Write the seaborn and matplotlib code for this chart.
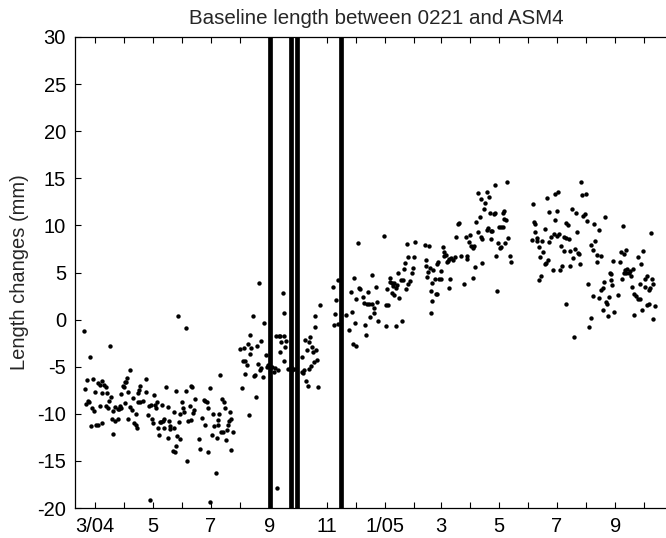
import matplotlib
matplotlib.use("Agg")
import matplotlib.pyplot as plt
import pandas as pd
import seaborn as sns

# ---------------- data (days since 2004-03-01, length change in mm) ----------------
origin = "2004-03-01"

days_spring04 = [-12, 16, -5, 37, -8, -2, 3.5, 8, 9.5, 5.5, 12, -10.5, 0, 7, 12.5, 17, 15, -7, -6, -9.6,
                 5, 12, 13.5, -3, -0.5, 19.5, 21.6, 24, 25, 28, 26, 30.5, 31.6, 33, 34, 30, 27.5, 32, 37, 40,
                 35, 39, 17.6, 21, 24, -3.6, 1, 3, 7.7, 19, 34.5, 41.5, 43, 44.7, 43, 45, 46.5, 48, 45.4, 47.8,
                 51, 53.5, 54.4, 56, 57, 59.5, 60, 61.6, 62.5, 63.7, 64.6, 66, 66.4, 68, 68.6, 70, 71.5, 72.9,
                 70.7, 73, 75, 76.6, 77, 78.6, 79.7, 79, 83, 83.4, 82, 84.5, 85.4, 85.4, 87, 88.4, 89.4, 89.4,
                 92, 93, 93.5, 96, 97, 98, 99.8, 101, 102.4, 101, 103.6, 104.7, 106, 109.7, 110.7, 112.8,
                 114.6, 116, 117.7, 116, 118.8, 119.5, 121.6, 123.4, 125, 126, 127.3, 128.3, 129.7, 129.4,
                 130.8, 131.8, 132.5, 133.6, 135, 135.7, 137.5, 137.8, 139.3, 140.7, 141.4, 142.8, 143.8,
                 145.2, 144, 58, 121, 88, 96]
mm_spring04 = [-1.2, -2.8, -4.0, -5.35, -6.4, -6.3, -6.7, -6.5, -6.9, -6.9, -7.2, -7.4, -7.7, -7.8, -7.8, -8.2,
               -8.6, -8.6, -8.7, -9.0, -9.2, -9.2, -9.35, -9.4, -9.7, -9.7, -9.3, -9.5, -9.5, -9.4, -9.2, -7.2,
               -6.6, -6.6, -6.2, -7.1, -7.9, -8.9, -9.3, -8.3, -7.7, -9.6, -10.5, -10.8, -10.5, -11.3, -11.2,
               -11.2, -11.0, -12.1, -10.6, -11.0, -11.2, -11.5, -10.0, -7.8, -7.5, -7.1, -8.8, -8.8, -8.6, -6.3,
               -7.7, -10.1, -9.2, -9.1, -10.6, -11.0, -8.0, -9.1, -9.4, -8.7, -11.5, -12.3, -10.9, -10.9, -10.8,
               -11.5, -9.1, -10.5, -7.2, -9.3, -12.6, -10.8, -11.6, -11.3, -9.8, -11.5, -14.0, -14.1, -7.6,
               -13.4, -12.4, -10.9, -12.7, -10.0, -8.7, -9.4, -9.8, -7.6, -15.0, -10.8, -9.2, -7.1, -7.2, -10.7,
               -9.9, -9.6, -8.4, -12.7, -13.7, -10.4, -8.5, -8.6, -8.8, -11.2, -9.4, -14.1, -7.3, -12.2, -10.0,
               -11.3, -16.3, -12.6, -10.7, -11.2, -10.0, -5.9, -11.9, -8.4, -11.9, -8.7, -9.4, -12.8, -11.7,
               -11.2, -10.8, -9.8, -13.8, -11.9, -10.5, -19.1, -19.4, 0.4, -0.9]

days_autumn04 = [172.6, 166.3, 178.6, 163.1, 153.2, 157.1, 161.7, 164.8, 170.5, 175.4, 158.5, 155.7, 163.8,
                 180, 160.6, 171.9, 173.6, 175, 168.7, 167.3, 158.5, 177.5, 181, 182.4, 183.8, 155, 169.8,
                 162, 197.9, 199.7, 190.9, 193.7, 195.5, 199.3, 196.2, 201.4, 200.7, 195.1, 190.2, 188.4,
                 192.6, 199, 186.7, 203.5, 206, 209.5, 207, 208, 192, 237, 231.7, 232.4, 226.8, 221.8, 225.3,
                 228.9, 233.4, 229.6, 224, 218.7, 234.5, 230.6, 228.2, 225.4, 220.4, 218.3, 219.4, 222.2,
                 224.3, 235.2, 251.4, 254.6, 256.3, 252.8, 252.1, 256.6, 277.4, 273.2, 270.4, 275.3, 278.1,
                 279.9, 282.3, 288, 292.2, 283.7, 286.9, 289.4, 292.2, 294, 271.1, 264.4, 273.9, 268.3, 285.2,
                 289.7, 294, 285.5, 271.8, 275]
mm_autumn04 = [3.85, 0.35, -0.36, -1.6, -3.16, -3.0, -2.55, -3.0, -2.8, -2.24, -4.36, -4.36, -3.7, -3.8,
               -4.8, -4.7, -5.3, -5.1, -5.85, -6.0, -5.8, -6.06, -5.0, -4.85, -4.9, -7.3, -8.2, -10.1, 2.8,
               0.7, -1.7, -1.7, -1.7, -1.7, -2.35, -2.3, -2.95, -3.45, -5.1, -5.6, -5.35, -4.4, -5.0, -5.2,
               -5.2, -5.2, -5.0, -5.3, -17.85, 1.6, 0.4, -0.75, -1.8, -2.2, -2.35, -2.9, -3.2, -3.4, -3.2,
               -4.0, -4.25, -4.5, -4.9, -5.2, -5.3, -5.6, -5.7, -6.5, -7.0, -7.2, 3.46, 2.1, 4.2, 0.6, -0.54,
               -0.5, 8.1, 4.45, 2.9, 2.2, 3.35, 3.3, 2.36, 2.96, 4.7, 1.8, 1.65, 1.65, 1.7, 1.2, 0.8, 0.5,
               -0.36, -1.1, -0.6, 0.3, 0.66, -1.6, -2.55, -2.8]

days_spring05 = [296, 297.1, 298.1, 304.5, 306.9, 309.4, 307.3, 317.5, 323.5, 308.3, 311.2, 310.8, 312.9,
                 314, 315.7, 317.1, 318.2, 319.6, 323.1, 324.9, 325.9, 326.6, 328.7, 329.8, 313.3, 315, 321,
                 327.7, 330.2, 332.6, 334, 335.4, 336.1, 337.9, 347.7, 352.3, 348.8, 349.5, 353, 350.9, 350.6,
                 355.1, 356.9, 358.3, 354.4, 359.4, 360.8, 355.8, 354.8, 361.1, 362.2, 362.9, 365, 365.3,
                 367.1, 367.8, 368.5, 369.9, 371.3, 372, 373.8, 375.5, 377.6, 379.4, 373.4, 374.8, 380.8,
                 382.9, 383.6, 386.1, 389.6, 391.4, 392.1, 392.8, 394.9, 396, 397, 398.4, 399.8, 398.4, 400.5,
                 402.3, 403.7, 406.1, 406.8, 407.9, 408.6, 413.2, 414.6, 417.8, 419.2, 418.1, 410.7, 411.4,
                 416.3, 421.3, 422.3, 403.7, 407.5, 413.2, 415.3, 421.6, 426.2, 427.9, 430.4, 430.1, 431.1,
                 431.8, 433.9, 435.7, 425.5, 426.9, 428.3, 432.9, 423.4, 424.4, 437.8, 439.2, 435]
mm_spring05 = [3.42, 1.9, -0.15, 8.9, 1.5, 1.5, -0.72, -0.72, -0.15, 3.25, 4.45, 3.95, 3.85, 3.56, 3.88,
               3.4, 3.67, 4.94, 4.2, 4.2, 5.33, 6.04, 8.0, 6.68, 2.8, 2.6, 2.3, 3.3, 3.74, 4.1, 4.9, 5.5, 6.68,
               8.2, 7.88, 7.8, 6.36, 5.7, 5.5, 5.1, 4.5, 3.9, 5.3, 4.3, 3.0, 2.7, 2.75, 2.0, 0.73, 5.9, 6.08,
               4.3, 4.3, 5.2, 7.7, 7.14, 6.7, 6.9, 6.08, 6.25, 6.4, 6.5, 6.3, 6.6, 3.4, 4.3, 8.8, 10.2, 10.3,
               6.7, 3.78, 8.8, 6.75, 6.47, 8.2, 9.0, 7.85, 7.6, 7.8, 4.45, 5.6, 10.4, 9.3, 10.9, 8.8, 8.6, 6.0,
               9.5, 9.7, 9.4, 9.4, 8.6, 11.7, 12.4, 11.3, 11.2, 11.3, 13.4, 12.8, 13.5, 13.0, 14.3, 9.8, 9.8,
               9.8, 11.3, 11.5, 10.7, 10.6, 8.7, 8.1, 7.6, 7.7, 8.1, 6.8, 3.07, 6.75, 6.08, 14.6]

days_summer05 = [462.1, 476.9, 485.7, 488.9, 512.8, 514.2, 518.4, 479, 487.5, 503.7, 507.5, 514.9, 516.7,
                 518.8, 538.1, 462.8, 463.9, 485, 497.3, 499.1, 526.9, 532.2, 556.8, 586, 474.8, 464.6, 508.6,
                 460.7, 466.4, 466.7, 471.6, 478.7, 481.1, 484, 487.1, 489.6, 494.9, 497.3, 500.1, 468.5,
                 472.7, 469.9, 477.6, 476.2, 474.8, 492, 495.2, 501.2, 506.5, 510, 510.7, 523.7, 527.9, 525.5,
                 529.7, 534.3, 504.4, 512.1, 529.3, 482.9, 490.6, 493.1, 501.5, 471, 468.1, 497, 520.5, 525.1,
                 531.5, 534.3, 536, 537.4, 538.8, 539.9, 542, 543.4, 544.8, 544.1, 545.9, 541.3, 548, 536,
                 523.4, 521.6, 505.8, 546.6, 553.3, 555, 560, 558.5, 552.2, 556.1, 558.5, 560.3, 563.1, 564.2,
                 567.3, 565.7, 559.6, 561.3, 566.3, 568.1, 569.1, 570.5, 572.3, 572.6, 574.4, 576.1, 578.2,
                 575.1, 577.5, 579.7, 580.4, 581.8, 583.9, 582.8, 584.2, 585.6, 587.7, 588.8, 590.9, 588.8]
mm_summer05 = [12.3, 12.9, 13.3, 13.5, 14.6, 13.2, 13.3, 11.4, 11.5, 11.7, 11.3, 11.0, 11.2, 10.5, 10.9,
               10.4, 10.2, 10.6, 10.3, 10.0, 10.1, 9.5, 9.9, 9.2, 9.6, 9.3, 9.3, 8.5, 8.7, 8.3, 8.3, 8.2, 8.8,
               9.1, 8.9, 9.1, 8.8, 8.7, 8.6, 7.7, 7.2, 6.6, 6.3, 6.0, 5.9, 7.8, 7.3, 7.3, 7.5, 7.1, 7.0, 7.9,
               8.3, 7.4, 6.9, 6.8, 6.5, 5.9, 6.15, 5.3, 5.3, 5.7, 5.7, 4.6, 4.2, 1.7, 3.8, 2.5, 2.3, 3.1, 3.4,
               4.0, 1.9, 1.7, 2.4, 5.0, 4.8, 4.2, 3.7, 0.4, 0.8, 1.0, 0.2, -0.8, -1.8, 6.25, 6.1, 7.2, 7.4,
               7.0, 2.6, 4.3, 4.9, 4.9, 4.9, 5.2, 5.4, 4.6, 5.3, 5.4, 3.5, 0.45, 2.7, 2.5, 6.6, 2.2, 2.2, 5.9,
               7.3, 3.8, 1.05, 3.5, 4.3, 4.6, 1.7, 1.6, 3.1, 3.35, 4.3, 3.8, 1.4, 0.1]

# event dates drawn as heavy vertical bars
event_dates = ["2004-09-02", "2004-09-24", "2004-09-30", "2004-11-16"]

# axis ticks
tick_months = pd.date_range("2004-03-01", "2005-10-01", freq="MS")
tick_labels = ["3/04", "", "5", "", "7", "", "9", "", "11", "", "1/05", "", "3", "", "5", "", "7", "",
               "9", ""]
y_ticks = [-20, -15, -10, -5, 0, 5, 10, 15, 20, 25, 30]

title_text = "Baseline length between 0221 and ASM4"
y_label = "Length changes (mm)"

# ---------------- build frame ----------------
days_all = days_spring04 + days_autumn04 + days_spring05 + days_summer05
mm_all = mm_spring04 + mm_autumn04 + mm_spring05 + mm_summer05
df = pd.DataFrame({
    "date": pd.Timestamp(origin) + pd.to_timedelta(days_all, unit="D"),
    "mm": mm_all,
})

# ---------------- plot ----------------
sns.set_style("ticks")
plt.rcParams["font.family"] = ["Liberation Sans", "DejaVu Sans"]

fig = plt.figure(figsize=(6.66, 5.38), dpi=100)
ax = fig.add_axes([75 / 666, 30 / 538, (678 - 75) / 666, (508 - 37) / 538])

for ev in event_dates:
    ax.axvline(pd.Timestamp(ev), color="black", lw=3.4, zorder=1)

sns.scatterplot(data=df, x="date", y="mm", color="black", s=10, linewidth=0,
                marker="o", ax=ax, legend=False, zorder=2)

ax.set_xlim(pd.Timestamp("2004-02-09"), pd.Timestamp("2005-11-06"))
ax.set_ylim(-20, 30)
ax.set_xticks(tick_months)
ax.set_xticklabels(tick_labels)
ax.set_yticks(y_ticks)
ax.set_yticklabels([str(v) for v in y_ticks])

ax.spines["right"].set_visible(False)
for side in ("left", "bottom", "top"):
    ax.spines[side].set_linewidth(0.9)
    ax.spines[side].set_color("black")

ax.tick_params(axis="both", direction="in", length=4.5, width=0.8, labelsize=14.5,
               colors="black", pad=6.5)
ax.tick_params(axis="x", top=True, bottom=True)
ax.tick_params(axis="y", left=True, right=False)

ax.set_xlabel("")
ax.set_ylabel(y_label, fontsize=14.5, labelpad=6)
ax.set_title(title_text, fontsize=14.8, pad=9)

fig.savefig("out.png", dpi=100)
